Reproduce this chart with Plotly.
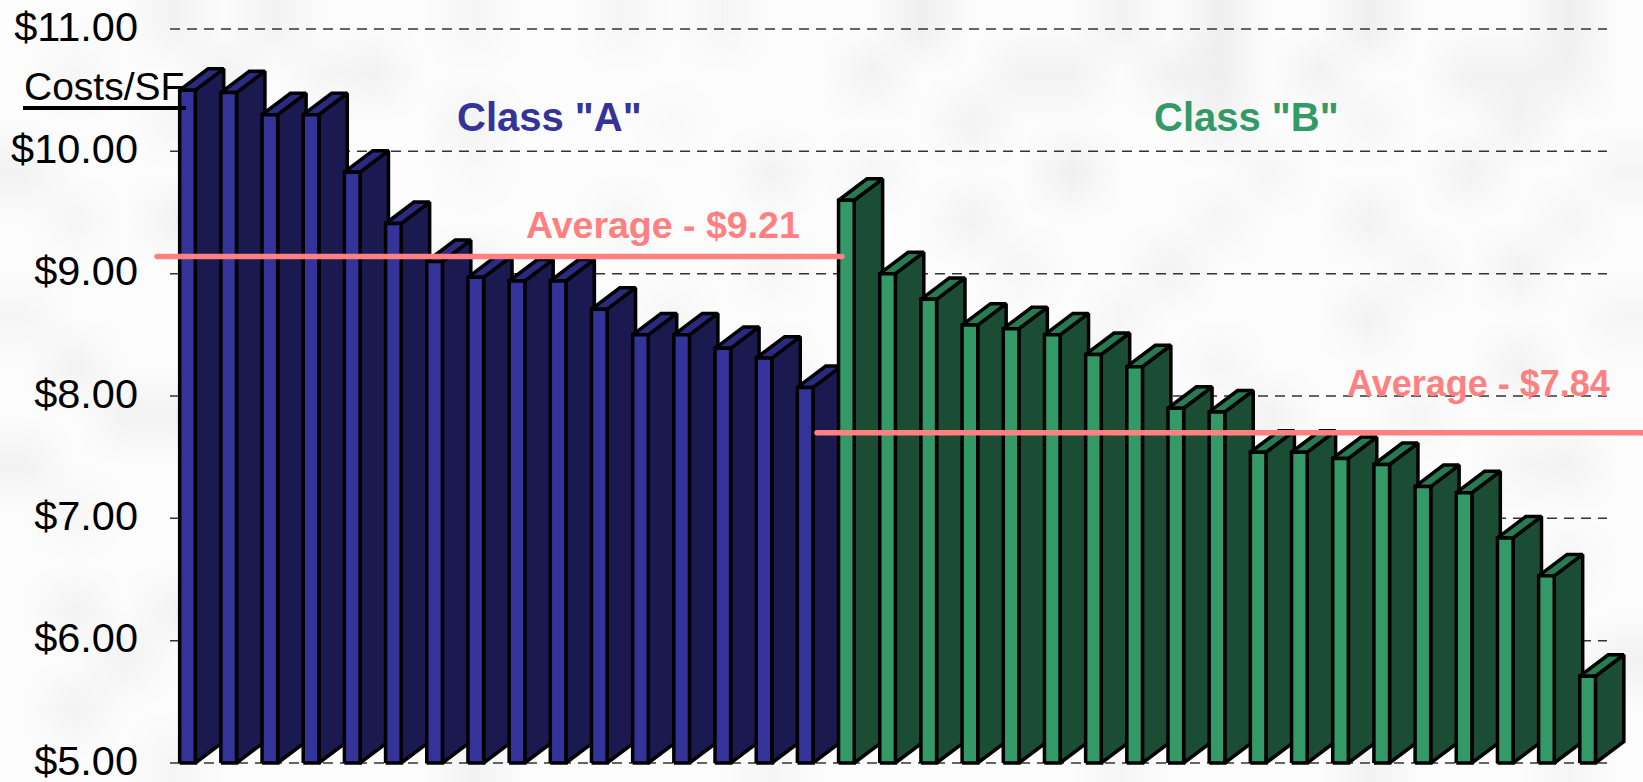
import plotly.graph_objects as go

class_a = [10.50, 10.48, 10.30, 10.30, 9.83, 9.41, 9.10, 8.97, 8.94, 8.94, 8.71, 8.50, 8.50, 8.39, 8.31, 8.07]
class_b = [9.60, 9.00, 8.79, 8.58, 8.55, 8.50, 8.34, 8.24, 7.90, 7.87, 7.54, 7.54, 7.49, 7.44, 7.26, 7.21, 6.84, 6.53, 5.71]
ticks = [5, 6, 7, 8, 9, 10, 11]
tick_labels = ["$5.00", "$6.00", "$7.00", "$8.00", "$9.00", "$10.00", "$11.00"]
avg_a_line = 9.14
avg_b_line = 7.70

# soft mottled paper behind the chart, one digit per coarse cell (0 = white, 9 = grey)
paper = [
    "000303000200202000400030400400040",
    "020030230000000003003303403003330",
    "000200000300010000030000300200300",
    "300020000100000302000400020003002",
    "020300200000200000030000200300020",
    "000002000300000200002003000020300",
    "200000300000020000300020000300002",
    "030020000200000300000300200000300",
    "003300000000200000200000030020000",
    "300002000300000300000200300000230",
    "020030000000200000300000000300000",
    "000000300200000020000300200003020",
    "030300000000300000200000000200300",
    "003000200200000300000200000300003",
    "030000300000200000300000200000200",
    "000200000300000200000020000300020",
]

W, H = 1643, 782
PX0, PXU = 187.5, 41.18        # first bar centre, pixels per bar slot
LEFT = 139
half = 0.19
dx, dy = 0.69, 0.175           # 3-D depth of a bar in axis units
ymin, ymax = 5 - 19 / 122.33, 11 + 29 / 122.33


def sx(px):
    return (px - PX0) / PXU


def paper_y(py):
    return 1 - py / H


fig = go.Figure()

fig.add_trace(go.Heatmap(
    z=[[int(c) for c in row] for row in paper],
    colorscale=[[0, "#fcfcfc"], [1, "#dedede"]], zmin=0, zmax=9,
    zsmooth="best", showscale=False, hoverinfo="skip", xaxis="x", yaxis="y",
))

for t in ticks:
    fig.add_trace(go.Scatter(
        x=[sx(170), sx(1607)], y=[t, t], mode="lines", xaxis="x2", yaxis="y2",
        line=dict(color="#333333", width=1.5, dash="10px,7px"),
        hoverinfo="skip", showlegend=False,
    ))

groups = [
    (class_a, "#333399", "#1a1a50", "#2a2a80"),
    (class_b, "#339966", "#1a4d33", "#287a52"),
]


def face(xs, ys, color):
    fig.add_trace(go.Scatter(
        x=xs, y=ys, mode="lines", fill="toself", fillcolor=color,
        line=dict(color="#000000", width=3.5), xaxis="x2", yaxis="y2",
        hoverinfo="skip", showlegend=False,
    ))


i = 0
for values, front, side, top in groups:
    for v in values:
        l, r = i - half, i + half
        face([r, r + dx, r + dx, r, r], [5, 5 + dy, v + dy, v, 5], side)
        face([l, r, r + dx, l + dx, l], [v, v, v + dy, v + dy, v], top)
        face([l, r, r, l, l], [5, 5, v, v, 5], front)
        i += 1

for a, b, y in [(157, 842, avg_a_line), (817, W, avg_b_line)]:
    fig.add_trace(go.Scatter(
        x=[sx(a), sx(b)], y=[y, y], mode="lines+markers", xaxis="x2", yaxis="y2",
        line=dict(color="#ff8080", width=5.5), marker=dict(color="#ff8080", size=5.5),
        hoverinfo="skip", showlegend=False,
    ))

FONT = "Liberation Sans"
ann = [
    ('Class "A"', 549, 117, 40, "#333399", True),
    ('Class "B"', 1246, 117, 40, "#339966", True),
    ("Average - $9.21", 663, 225, 37.5, "#ff8080", True),
    ("Average - $7.84", 1478, 383, 36, "#ff8080", True),
    ("Costs/SF", 104, 87, 39, "#000000", False),
]
for t, px, py, s, c, b in ann:
    fig.add_annotation(
        text=f"<b>{t}</b>" if b else t, x=px / W, y=paper_y(py),
        xref="paper", yref="paper", xanchor="center", yanchor="middle", showarrow=False,
        font=dict(family=FONT, size=s, color=c),
    )

fig.add_shape(type="line", xref="paper", yref="paper", x0=23 / W, x1=186 / W,
              y0=paper_y(108), y1=paper_y(108), line=dict(color="#000000", width=4))

fig.update_layout(
    width=W, height=H, margin=dict(l=0, r=0, t=0, b=0, autoexpand=False),
    paper_bgcolor="#fcfcfc", plot_bgcolor="rgba(0,0,0,0)", showlegend=False,
    font=dict(family=FONT, color="#000000"),
    xaxis=dict(domain=[0, 1], range=[-0.5, 32.5], visible=False, fixedrange=True),
    yaxis=dict(domain=[0, 1], range=[15.5, -0.5], visible=False, fixedrange=True),
    xaxis2=dict(domain=[LEFT / W, 1], range=[sx(LEFT), sx(W)], visible=False, anchor="y2"),
    yaxis2=dict(domain=[0, 1], range=[ymin, ymax], anchor="x2", tickvals=ticks, ticktext=tick_labels,
                showgrid=False, zeroline=False, showline=False, ticks="", ticklabeloverflow="allow",
                ticklabelshift=-3, automargin=False,
                tickfont=dict(family=FONT, size=41.5, color="#000000")),
)

fig.write_html("out.html", config={"displayModeBar": False},
               post_script="document.body.style.margin='0';")
